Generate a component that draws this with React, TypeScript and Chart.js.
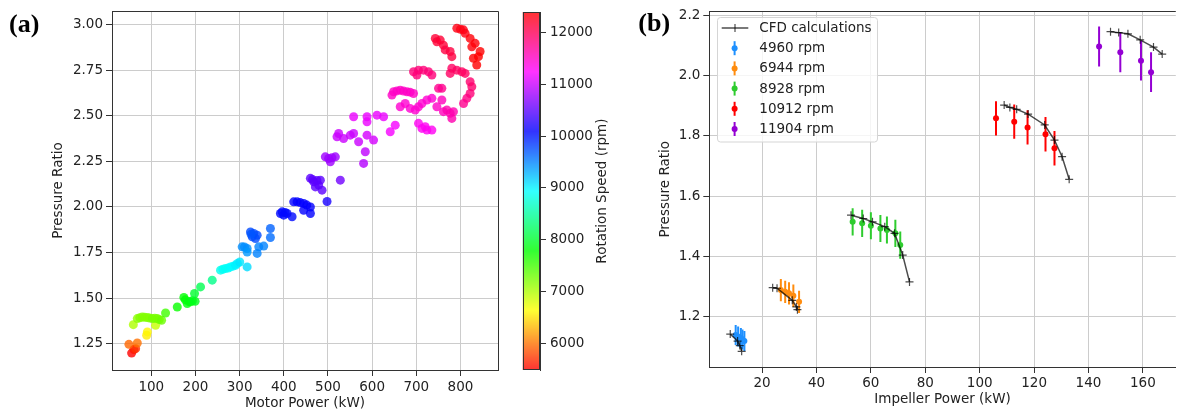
import React, { useEffect, useRef } from 'react';
import { Chart, registerables } from 'chart.js';

Chart.register(...registerables);

const FONT_FAMILY = "'DejaVu Sans', 'Noto Sans', sans-serif";
const FONT_SIZE = 13.5;
const TEXT_COLOR = '#222222';
const GRID_COLOR = '#cccccc';
const SPINE_COLOR = '#333333';
const CFD_COLOR = 'rgba(0,0,0,0.7)';

// ---------------- Panel (a): motor power vs pressure ratio ----------------
const motorPower = [
  55.4, 60.6, 64.5, 49.3, 68.3, 89.4, 91.0, 59.3, 109.7, 68.3,
  74, 79.6, 85, 91.0, 96, 102.3, 108, 113.6, 118, 123.3,
  132.3, 158.8, 173.7, 177, 181.4, 185, 188.9, 193, 199.2, 197.9,
  211.5, 237.9, 256.7, 262, 268, 274, 279.3, 285, 290.6, 295,
  300.3, 317, 305.7, 311, 317, 317, 339.7, 343.3, 354.6, 369.7,
  369.7, 324.5, 332, 339.7, 328.4, 335.8, 326, 392.3, 399.8, 407.5,
  418.8, 396.2, 403, 422.4, 430, 437, 445, 452, 460.2, 445,
  460.2, 497.9, 467.6, 460.2, 482.8, 471.5, 486.6, 479, 475, 465,
  528, 501.5, 516.7, 494, 505.4, 509, 580.7, 584.5, 520.5, 535.4,
  550.6, 558.1, 569.4, 588.4, 603.3, 524.2, 558.1, 588.4, 588.4, 611,
  626, 641, 652.3, 648.5, 656, 663.6, 671, 678.8, 686, 693.7,
  644.9, 663.6, 674.9, 686.2, 697.6, 705, 712.7, 724, 735.3, 746.6,
  757.9, 761.5, 776.7, 784.1, 780.5, 769.2, 705, 712.7, 724, 735.3,
  720.2, 693.7, 705, 716.3, 727.6, 735.3, 701.4, 750.3, 757.9, 780.5,
  791.8, 803.1, 810.6, 821.9, 825.7, 821.9, 814.5, 807, 776.7, 776.7,
  780.5, 743, 754.3, 746.6, 761.5, 765.4, 791.8, 806.7, 810.6, 821.9,
  833.2, 844.5, 840.7, 836.9, 829.3, 825.7, 800,
];
const pressureRatioA = [
  1.198, 1.217, 1.222, 1.246, 1.253, 1.296, 1.314, 1.354, 1.35, 1.387,
  1.392, 1.396, 1.394, 1.393, 1.39, 1.387, 1.389, 1.387, 1.382, 1.378,
  1.418, 1.451, 1.503, 1.49, 1.47, 1.48, 1.479, 1.485, 1.482, 1.525,
  1.561, 1.598, 1.653, 1.658, 1.662, 1.665, 1.671, 1.675, 1.68, 1.69,
  1.698, 1.671, 1.781, 1.78, 1.772, 1.753, 1.745, 1.781, 1.785, 1.882,
  1.832, 1.863, 1.854, 1.845, 1.836, 1.827, 1.85, 1.964, 1.955, 1.964,
  1.946, 1.973, 1.97, 2.028, 2.028, 2.024, 2.019, 2.01, 2.0, 1.982,
  1.964, 2.03, 2.138, 2.157, 2.147, 2.11, 2.092, 2.12, 2.145, 2.15,
  2.147, 2.266, 2.275, 2.275, 2.248, 2.27, 2.239, 2.303, 2.385, 2.376,
  2.394, 2.403, 2.358, 2.394, 2.367, 2.403, 2.495, 2.495, 2.467, 2.504,
  2.495, 2.413, 2.449, 2.632, 2.637, 2.641, 2.636, 2.632, 2.63, 2.623,
  2.614, 2.55, 2.568, 2.541, 2.532, 2.55, 2.568, 2.587, 2.596, 2.55,
  2.587, 2.523, 2.514, 2.523, 2.486, 2.532, 2.459, 2.431, 2.422, 2.422,
  2.44, 2.742, 2.751, 2.751, 2.742, 2.724, 2.724, 2.651, 2.651, 2.761,
  2.751, 2.742, 2.733, 2.687, 2.66, 2.623, 2.596, 2.568, 2.733, 2.853,
  2.825, 2.925, 2.916, 2.907, 2.888, 2.862, 2.981, 2.972, 2.953, 2.925,
  2.898, 2.853, 2.825, 2.779, 2.816, 2.879, 2.975,
];
const rotationSpeed = [
  5490, 5600, 5700, 5950, 6000, 6550, 6600, 7000, 6900, 7150,
  7200, 7200, 7200, 7200, 7200, 7250, 7250, 7250, 7250, 7300,
  7500, 7750, 7800, 7800, 7850, 7850, 7850, 7900, 7900, 8000,
  8150, 8400, 8850, 8900, 8900, 8900, 8950, 8950, 9000, 9000,
  9050, 9100, 9450, 9450, 9450, 9400, 9500, 9500, 9500, 9650,
  9600, 9750, 9750, 9750, 9750, 9750, 9700, 10050, 10050, 10050,
  10050, 10050, 10050, 10100, 10100, 10100, 10100, 10100, 10100, 10100,
  10100, 10200, 10500, 10500, 10500, 10500, 10500, 10500, 10500, 10500,
  10600, 10800, 10800, 10800, 10800, 10800, 10900, 10950, 11000, 11000,
  11000, 11000, 11000, 11050, 11050, 11000, 11150, 11150, 11150, 11150,
  11150, 11200, 11200, 11500, 11500, 11500, 11500, 11500, 11500, 11500,
  11500, 11450, 11450, 11450, 11450, 11450, 11450, 11450, 11450, 11500,
  11550, 11550, 11600, 11600, 11600, 11600, 11300, 11300, 11300, 11300,
  11300, 11850, 11850, 11850, 11850, 11850, 11850, 11750, 11750, 11950,
  11950, 11950, 11950, 11900, 11900, 11850, 11800, 11750, 11950, 12100,
  12100, 12150, 12150, 12150, 12150, 12100, 12300, 12300, 12300, 12350,
  12350, 12390, 12390, 12390, 12390, 12350, 12300,
];
const aXTicks = [100, 200, 300, 400, 500, 600, 700, 800];
const aYTicks = [1.25, 1.5, 1.75, 2.0, 2.25, 2.5, 2.75, 3.0];
const cbTicks = [6000, 7000, 8000, 9000, 10000, 11000, 12000];
const cbMin = 5485;
const cbMax = 12392;

// ---------------- Panel (b): impeller power vs pressure ratio ----------------
const speedLabels = ['4960 rpm', '6944 rpm', '8928 rpm', '10912 rpm', '11904 rpm'];
const speedColors = ['#1e90ff', '#ff8c0e', '#2ecc2e', '#ff0000', '#9400d3'];

const cfd4960Power = [8.3, 11.0, 11.8, 12.5];
const cfd4960Ratio = [1.143, 1.12, 1.105, 1.086];
const cfd6944Power = [23.9, 25.5, 31.1, 32.6, 33.0];
const cfd6944Ratio = [1.297, 1.295, 1.255, 1.233, 1.224];
const cfd8928Power = [52.7, 57.2, 60.6, 65.1, 68.7, 71.7, 74.2];
const cfd8928Ratio = [1.537, 1.526, 1.515, 1.499, 1.477, 1.405, 1.316];
const cfd10912Power = [109.0, 111.1, 113.6, 117.8, 123.9, 127.5, 130.3, 132.9];
const cfd10912Ratio = [1.902, 1.894, 1.888, 1.872, 1.836, 1.786, 1.731, 1.656];
const cfd11904Power = [148.1, 151.1, 154.5, 159.0, 163.9, 167.1];
const cfd11904Ratio = [2.145, 2.142, 2.138, 2.118, 2.094, 2.071];

const exp4960Power = [10.3, 11.2, 12.2, 12.8, 13.5];
const exp4960Ratio = [1.14, 1.135, 1.13, 1.125, 1.12];
const exp4960Err = [0.033, 0.033, 0.033, 0.033, 0.033];
const exp6944Power = [26.9, 28.5, 29.9, 31.5, 33.6];
const exp6944Ratio = [1.289, 1.283, 1.278, 1.27, 1.25];
const exp6944Err = [0.037, 0.037, 0.037, 0.037, 0.037];
const exp8928Power = [53.3, 56.8, 60.0, 63.5, 65.9, 69.0, 70.8];
const exp8928Ratio = [1.515, 1.51, 1.502, 1.493, 1.488, 1.477, 1.438];
const exp8928Err = [0.045, 0.045, 0.045, 0.045, 0.045, 0.045, 0.045];
const exp10912Power = [106.0, 112.7, 117.6, 124.2, 127.5];
const exp10912Ratio = [1.858, 1.847, 1.828, 1.805, 1.759];
const exp10912Err = [0.057, 0.057, 0.057, 0.057, 0.057];
const exp11904Power = [143.9, 151.7, 159.3, 163.0];
const exp11904Ratio = [2.096, 2.077, 2.049, 2.011];
const exp11904Err = [0.066, 0.066, 0.066, 0.066];

const bXTicks = [20, 40, 60, 80, 100, 120, 140, 160];
const bYTicks = [1.2, 1.4, 1.6, 1.8, 2.0, 2.2];

const cfdSeries = [
  { power: cfd4960Power, ratio: cfd4960Ratio },
  { power: cfd6944Power, ratio: cfd6944Ratio },
  { power: cfd8928Power, ratio: cfd8928Ratio },
  { power: cfd10912Power, ratio: cfd10912Ratio },
  { power: cfd11904Power, ratio: cfd11904Ratio },
];
const expSeries = [
  { power: exp4960Power, ratio: exp4960Ratio, err: exp4960Err },
  { power: exp6944Power, ratio: exp6944Ratio, err: exp6944Err },
  { power: exp8928Power, ratio: exp8928Ratio, err: exp8928Err },
  { power: exp10912Power, ratio: exp10912Ratio, err: exp10912Err },
  { power: exp11904Power, ratio: exp11904Ratio, err: exp11904Err },
];

// ---------------- helpers ----------------
function hsvColor(v: number, alpha: number): string {
  const t = Math.min(1, Math.max(0, (v - cbMin) / (cbMax - cbMin)));
  const h = t * 6;
  const i = Math.floor(h) % 6;
  const f = h - Math.floor(h);
  const q = 1 - f;
  let r = 0, g = 0, b = 0;
  switch (i) {
    case 0: r = 1; g = f; b = 0; break;
    case 1: r = q; g = 1; b = 0; break;
    case 2: r = 0; g = 1; b = f; break;
    case 3: r = 0; g = q; b = 1; break;
    case 4: r = f; g = 0; b = 1; break;
    default: r = 1; g = 0; b = q;
  }
  return `rgba(${Math.round(r * 255)},${Math.round(g * 255)},${Math.round(b * 255)},${alpha})`;
}

const tickFont = { family: FONT_FAMILY, size: FONT_SIZE };

function linearAxis(min: number, max: number, tickValues: number[], decimals: number,
  titleText: string, fitSize: number, horizontal: boolean, labelPad: number): any {
  return {
    type: 'linear',
    min,
    max,
    afterBuildTicks: (scale: any) => { scale.ticks = tickValues.map((v) => ({ value: v })); },
    afterFit: (scale: any) => { if (horizontal) scale.height = fitSize; else scale.width = fitSize; },
    ticks: {
      font: tickFont, color: TEXT_COLOR, padding: labelPad, autoSkip: false,
      maxRotation: 0, minRotation: 0, includeBounds: false,
      callback: (v: any) => Number(v).toFixed(decimals),
    },
    grid: { color: GRID_COLOR, lineWidth: 1, drawTicks: true, tickLength: 6, tickColor: SPINE_COLOR, tickWidth: 1 },
    border: { display: true, color: SPINE_COLOR, width: 1 },
    title: titleText
      ? { display: true, text: titleText, font: tickFont, color: TEXT_COLOR, padding: 0 }
      : { display: false },
  };
}

const framePlugin = {
  id: 'frame',
  afterDraw(chart: any, _args: any, opts: any) {
    const { ctx, chartArea: a } = chart;
    ctx.save();
    ctx.strokeStyle = SPINE_COLOR;
    ctx.lineWidth = 1;
    const top = Math.round(a.top - 0.5) + 0.5;
    const right = Math.round(a.right - 0.5) + 0.5;
    ctx.beginPath();
    ctx.moveTo(a.left, top);
    ctx.lineTo(opts && opts.right ? right : a.right, top);
    if (opts && opts.right) ctx.lineTo(right, a.bottom);
    ctx.stroke();
    ctx.restore();
  },
};

const panelLabelPlugin = {
  id: 'panelLabel',
  afterDraw(chart: any, _args: any, opts: any) {
    const { ctx } = chart;
    ctx.save();
    ctx.font = "bold 26px 'Liberation Serif', 'Times New Roman', serif";
    ctx.fillStyle = '#000000';
    ctx.textBaseline = 'alphabetic';
    ctx.textAlign = 'left';
    ctx.fillText(opts.text, opts.x, opts.y);
    ctx.restore();
  },
};

const colorbarPlugin = {
  id: 'colorbar',
  beforeDatasetsDraw(chart: any) {
    const { ctx, chartArea: a } = chart;
    const ys = chart.scales.y;
    ctx.save();
    for (let y = Math.floor(a.top); y < a.bottom; y++) {
      const v = ys.getValueForPixel(y + 0.5);
      ctx.fillStyle = hsvColor(v, 0.8);
      ctx.fillRect(a.left, y, a.right - a.left, 1);
    }
    ctx.strokeStyle = SPINE_COLOR;
    ctx.lineWidth = 1;
    const l = Math.round(a.left) + 0.5, r = Math.round(a.right) - 0.5;
    const t = Math.round(a.top) + 0.5, b = Math.round(a.bottom) - 0.5;
    ctx.strokeRect(l, t, r - l, b - t);
    ctx.translate(a.right + 62, (a.top + a.bottom) / 2);
    ctx.rotate(-Math.PI / 2);
    ctx.font = `${FONT_SIZE}px ${FONT_FAMILY}`;
    ctx.fillStyle = TEXT_COLOR;
    ctx.textAlign = 'center';
    ctx.textBaseline = 'middle';
    ctx.fillText('Rotation Speed (rpm)', 0, 0);
    ctx.restore();
  },
};

const errorBarPlugin = {
  id: 'errorBars',
  beforeDatasetsDraw(chart: any) {
    const { ctx, chartArea: a } = chart;
    const xs = chart.scales.x, ys = chart.scales.y;
    ctx.save();
    ctx.beginPath();
    ctx.rect(a.left, a.top, a.right - a.left, a.bottom - a.top);
    ctx.clip();
    ctx.lineWidth = 2;
    expSeries.forEach((s, k) => {
      ctx.strokeStyle = speedColors[k];
      s.power.forEach((p, i) => {
        const x = xs.getPixelForValue(p);
        ctx.beginPath();
        ctx.moveTo(x, ys.getPixelForValue(s.ratio[i] - s.err[i]));
        ctx.lineTo(x, ys.getPixelForValue(s.ratio[i] + s.err[i]));
        ctx.stroke();
      });
    });
    ctx.restore();
  },
};

const legendPlugin = {
  id: 'customLegend',
  afterDraw(chart: any) {
    const { ctx, chartArea: a } = chart;
    const bx = Math.round(a.left + 7.4) + 0.5;
    const by = Math.round(a.top + 5.5) + 0.5;
    const bw = 160, bh = 124.5, rad = 3;
    ctx.save();
    ctx.beginPath();
    ctx.moveTo(bx + rad, by);
    ctx.lineTo(bx + bw - rad, by);
    ctx.quadraticCurveTo(bx + bw, by, bx + bw, by + rad);
    ctx.lineTo(bx + bw, by + bh - rad);
    ctx.quadraticCurveTo(bx + bw, by + bh, bx + bw - rad, by + bh);
    ctx.lineTo(bx + rad, by + bh);
    ctx.quadraticCurveTo(bx, by + bh, bx, by + bh - rad);
    ctx.lineTo(bx, by + rad);
    ctx.quadraticCurveTo(bx, by, bx + rad, by);
    ctx.closePath();
    ctx.fillStyle = 'rgba(255,255,255,0.8)';
    ctx.fill();
    ctx.strokeStyle = '#d5d5d5';
    ctx.lineWidth = 1;
    ctx.stroke();

    const labels = ['CFD calculations', ...speedLabels];
    const textX = a.left + 50;
    ctx.font = `${FONT_SIZE}px ${FONT_FAMILY}`;
    ctx.textBaseline = 'middle';
    ctx.textAlign = 'left';
    labels.forEach((lab, i) => {
      const y = a.top + 16.5 + i * 20.2;
      if (i === 0) {
        const x0 = a.left + 12.4, x1 = a.left + 39;
        const xm = (x0 + x1) / 2;
        ctx.strokeStyle = CFD_COLOR;
        ctx.lineWidth = 1.5;
        ctx.beginPath();
        ctx.moveTo(x0, y);
        ctx.lineTo(x1, y);
        ctx.stroke();
        ctx.lineWidth = 1.2;
        ctx.beginPath();
        ctx.moveTo(xm, y - 4);
        ctx.lineTo(xm, y + 4);
        ctx.stroke();
      } else {
        const c = speedColors[i - 1];
        const xm = a.left + 25.3;
        ctx.strokeStyle = c;
        ctx.lineWidth = 2;
        ctx.beginPath();
        ctx.moveTo(xm, y - 7);
        ctx.lineTo(xm, y + 7);
        ctx.stroke();
        ctx.fillStyle = c;
        ctx.beginPath();
        ctx.arc(xm, y, 3, 0, Math.PI * 2);
        ctx.fill();
      }
      ctx.fillStyle = TEXT_COLOR;
      ctx.fillText(lab, textX, y + 0.5);
    });
    ctx.restore();
  },
};

function buildConfigA(): any {
  return {
    type: 'scatter',
    data: {
      datasets: [{
        data: motorPower.map((x, i) => ({ x, y: pressureRatioA[i] })),
        pointBackgroundColor: rotationSpeed.map((v) => hsvColor(v, 0.8)),
        pointBorderWidth: 0,
        pointRadius: 4.5,
        pointHoverRadius: 4.5,
      }],
    },
    options: {
      responsive: false,
      animation: false,
      events: [],
      layout: { padding: { left: 50, right: 7, top: 11, bottom: 0 } },
      plugins: {
        legend: { display: false },
        tooltip: { enabled: false },
        frame: { right: true },
        panelLabel: { text: '(a)', x: 9, y: 32 },
      },
      scales: {
        x: linearAxis(11, 885, aXTicks, 0, 'Motor Power (kW)', 42, true, 3),
        y: linearAxis(1.105, 3.075, aYTicks, 2, 'Pressure Ratio', 62, false, 3),
      },
    },
    plugins: [framePlugin, panelLabelPlugin],
  };
}

function buildConfigCB(): any {
  const yAxis = linearAxis(cbMin, cbMax, cbTicks, 0, '', 75, false, 4);
  yAxis.position = 'right';
  yAxis.grid = { ...yAxis.grid, drawOnChartArea: false };
  return {
    type: 'scatter',
    data: { datasets: [] },
    options: {
      responsive: false,
      animation: false,
      events: [],
      layout: { padding: { left: 17.7, right: 0, top: 12, bottom: 42 } },
      plugins: { legend: { display: false }, tooltip: { enabled: false } },
      scales: {
        x: { type: 'linear', display: false, min: 0, max: 1 },
        y: yAxis,
      },
    },
    plugins: [colorbarPlugin],
  };
}

function buildConfigB(): any {
  const cfdDatasets = cfdSeries.map((s) => ({
    data: s.power.map((x, i) => ({ x, y: s.ratio[i] })),
    showLine: true,
    borderColor: CFD_COLOR,
    borderWidth: 1.5,
    pointStyle: 'cross',
    pointRadius: 4,
    pointHoverRadius: 4,
    pointBorderColor: CFD_COLOR,
    pointBackgroundColor: CFD_COLOR,
    pointBorderWidth: 1.2,
    fill: false,
    tension: 0,
  }));
  const expDatasets = expSeries.map((s, k) => ({
    data: s.power.map((x, i) => ({ x, y: s.ratio[i] })),
    pointRadius: 3,
    pointHoverRadius: 3,
    pointBackgroundColor: speedColors[k],
    pointBorderWidth: 0,
  }));
  return {
    type: 'scatter',
    data: { datasets: [...cfdDatasets, ...expDatasets] },
    options: {
      responsive: false,
      animation: false,
      events: [],
      layout: { padding: { left: 37, right: 0, top: 11.5, bottom: 4 } },
      plugins: {
        legend: { display: false },
        tooltip: { enabled: false },
        frame: { right: false },
        panelLabel: { text: '(b)', x: 18.3, y: 31 },
      },
      scales: {
        x: linearAxis(0.6, 172.1, bXTicks, 0, 'Impeller Power (kW)', 41, true, 2),
        y: linearAxis(1.034, 2.212, bYTicks, 1, 'Pressure Ratio', 52.3, false, 3),
      },
    },
    plugins: [errorBarPlugin, framePlugin, legendPlugin, panelLabelPlugin],
  };
}

export default function App() {
  const aRef = useRef<HTMLCanvasElement>(null);
  const cbRef = useRef<HTMLCanvasElement>(null);
  const bRef = useRef<HTMLCanvasElement>(null);

  useEffect(() => {
    const charts: Chart[] = [];
    if (aRef.current) charts.push(new Chart(aRef.current, buildConfigA()));
    if (cbRef.current) charts.push(new Chart(cbRef.current, buildConfigCB()));
    if (bRef.current) charts.push(new Chart(bRef.current, buildConfigB()));
    return () => charts.forEach((c) => c.destroy());
  }, []);

  return (
    <div style={{ position: 'absolute', left: 0, top: 0, width: 1181, height: 412, background: '#ffffff', overflow: 'hidden' }}>
      <canvas ref={aRef} width={505} height={412}
        style={{ position: 'absolute', left: 0, top: 0, width: 505, height: 412 }} />
      <canvas ref={cbRef} width={110} height={412}
        style={{ position: 'absolute', left: 505, top: 0, width: 110, height: 412 }} />
      <canvas ref={bRef} width={561} height={412}
        style={{ position: 'absolute', left: 620, top: 0, width: 561, height: 412 }} />
    </div>
  );
}
